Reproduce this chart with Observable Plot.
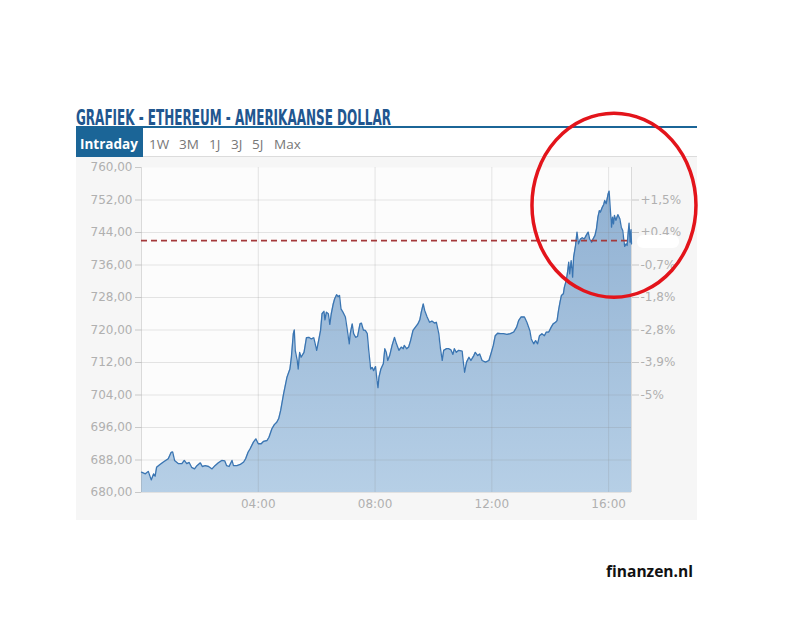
<!DOCTYPE html>
<html>
<head>
<meta charset="utf-8">
<script src="https://cdn.jsdelivr.net/npm/d3@7"></script>
<script src="https://cdn.jsdelivr.net/npm/@observablehq/plot@0.6"></script>
<style>
  html, body { margin: 0; padding: 0; background: #fff; }
  #page { position: relative; width: 800px; height: 628px; overflow: hidden; background: #fff; }
  #chart { position: absolute; left: 76px; top: 157px; }
  #overlay { position: absolute; left: 0; top: 0; pointer-events: none; }
</style>
</head>
<body>
<div id="page">
  <div id="chart"></div>
  <svg id="overlay" width="800" height="628"></svg>
</div>
<script>
// ---- data (minutes since 00:00, price in USD) ----
const times = [
  0, 8, 14, 20, 25, 28, 31, 38, 45, 55, 61, 64, 68, 76, 83, 88, 93, 98, 103, 109, 114, 121, 125, 131, 138, 145, 151, 158, 165, 171, 175, 180, 186, 189, 196, 203, 210, 214, 219, 223, 230, 235, 240, 246, 251, 258, 262, 268, 273, 278, 282,
  286, 292, 299, 305, 308, 312, 314, 316, 320, 322, 325, 328, 334, 339, 344, 349, 354, 357, 360, 364, 368, 371, 375, 377, 380, 384, 387, 390, 394, 397, 401, 404, 407, 410, 414, 419, 423, 427, 429, 433, 436, 440, 444, 449, 452, 456, 460, 464, 467, 471, 474, 477, 481, 484, 486, 488, 492, 497, 500, 503, 506, 510, 515, 520, 524, 529, 534, 538, 540, 545, 549, 553, 558, 563, 568, 572, 575, 579, 582, 587, 592, 597, 602, 606, 611, 614, 618, 621, 627, 631, 636, 640, 643, 647, 652, 659,
  661, 664, 668, 673, 677, 683, 686, 691, 695, 700, 707, 714, 719, 723, 727, 732, 738, 744, 751, 758, 765, 771, 775, 780, 787, 792, 798, 801, 806, 810, 814, 818, 823, 828, 832, 837, 842, 846, 851, 854, 857, 860, 863, 867, 869, 873, 876, 878, 880, 883, 886, 888, 892, 895, 898, 902, 906, 910, 914, 918, 921, 925, 928, 932, 935, 938, 941, 943, 947, 950, 952, 955, 959, 961, 963, 966, 968, 970, 972, 975, 979, 983, 986, 989, 991, 993, 996, 998, 1000, 1002, 1004, 1006, 1007
];
const prices = [
  685.0, 684.6, 685.2, 683.1, 684.6, 684.0, 686.2, 686.9, 687.5, 688.3, 689.9, 690.0, 687.9, 687.1, 687.1, 687.9, 687.1, 687.4, 686.2, 685.8, 686.6, 687.3, 686.4, 686.6, 686.4, 685.8, 686.6, 687.3, 687.9, 687.8, 686.6, 686.4, 687.9, 686.6, 686.6, 686.9, 687.5, 688.3, 689.9, 690.7, 692.4, 693.2, 692.0, 692.0, 692.6, 692.8, 693.6, 695.7, 696.7, 697.3, 698.2,
  700.2, 704.3, 708.4, 710.4, 713.3, 719.1, 720.0, 715.0, 712.5, 710.4, 714.5, 713.3, 714.5, 718.1, 718.2, 717.8, 718.1, 716.6, 715.0, 717.4, 719.9, 724.0, 724.6, 722.5, 724.4, 724.0, 721.4, 724.0, 726.4, 727.7, 728.7, 728.2, 728.5, 725.2, 724.4, 723.2, 720.0, 716.6, 719.1, 721.5, 719.1, 718.2, 718.4, 721.5, 721.7, 720.0, 719.9, 719.1, 715.0, 710.4, 710.8, 710.0, 711.0, 707.6, 705.8, 708.4, 710.4, 711.7, 715.4, 714.5, 712.5, 713.7, 716.2, 718.2, 716.6, 715.0, 715.8, 715.4, 716.2, 715.4, 715.8, 717.4, 719.9, 720.7, 721.5, 722.5, 724.4, 726.4, 724.8, 723.2, 721.9, 722.2, 721.7, 721.9, 719.1, 715.8, 712.5, 715.0, 715.4, 715.4, 715.1, 714.0, 715.4, 714.5, 715.0, 714.8,
  712.5, 709.6, 712.1, 713.3, 712.5, 713.7, 714.5, 713.7, 714.1, 712.5, 712.1, 712.5, 714.5, 716.2, 718.6, 719.2, 719.1, 719.1, 718.9, 719.1, 719.5, 720.7, 722.3, 723.2, 723.2, 721.9, 719.9, 717.8, 716.6, 717.4, 716.6, 718.6, 719.1, 718.6, 719.5, 719.5, 720.7, 721.5, 721.9, 722.3, 724.8, 726.8, 728.5, 728.9, 730.5, 732.2, 734.6, 736.7, 733.8, 737.1, 733.0, 737.9, 740.8, 744.1, 741.2, 742.4, 742.7, 742.4, 743.3, 744.1, 742.4, 741.6, 742.4, 743.3, 744.9, 747.8, 749.4, 749.0, 750.2, 750.9, 751.9, 751.1, 753.5, 754.2, 750.6, 745.3, 747.8, 746.1, 748.2, 747.0, 748.4, 747.4, 745.3, 744.5, 742.4, 740.6, 741.2, 740.8, 743.7, 746.3, 741.6, 744.7, 741.2
];
const refPrice = 742;                 // previous close (dashed line)
const xDomain = [0, 1007];            // 00:00 .. ~16:47
const yDomain = [680, 760];
const xTicks = [240, 480, 720, 960];
const xTickLabels = ["04:00", "08:00", "12:00", "16:00"];
const yTicks = [680, 688, 696, 704, 712, 720, 728, 736, 744, 752, 760];
const gridYTicks = [680, 688, 696, 704, 712, 720, 728, 736, 744, 752];
const pctTicks = [752, 744, 736, 728, 720, 712, 704];
const pctLabels = ["+1,5%", "+0,4%", "-0,7%", "-1,8%", "-2,8%", "-3,9%", "-5%"];
const titleText = "GRAFIEK - ETHEREUM - AMERIKAANSE DOLLAR";
const activeTab = "Intraday";
const tabs = ["1W", "3M", "1J", "3J", "5J", "Max"];
const brand = "finanzen.nl";
const highlightAt = { t: 972, price: 750.6 };

const data = times.map((t, i) => ({ t, price: prices[i] }));

const chart = Plot.plot({
  width: 621,
  height: 363,
  marginLeft: 65,
  marginRight: 66,
  marginTop: 10,
  marginBottom: 28,
  style: { fontFamily: "'DejaVu Sans', Verdana, sans-serif", fontSize: "12px", background: "#f6f6f6", color: "#b0b0b0" },
  x: { type: "linear", domain: xDomain, axis: null, label: null },
  y: { domain: yDomain, axis: null, label: null },
  marks: [
    Plot.frame({ fill: "#fcfcfc", stroke: "none" }),
    Plot.areaY(data, { x: "t", y1: yDomain[0], y2: "price", fill: "url(#ethGrad)", curve: "linear" }),
    Plot.gridY(gridYTicks, { stroke: "#808080", strokeOpacity: 0.2 }),
    Plot.gridX(xTicks, { stroke: "#808080", strokeOpacity: 0.2 }),
    Plot.ruleX(xDomain, { stroke: "#808080", strokeOpacity: 0.25 }),
    Plot.lineY(data, { x: "t", y: "price", stroke: "#3a75b2", strokeWidth: 1.3 }),
    Plot.ruleY([refPrice], { stroke: "#a4393b", strokeWidth: 1.6, strokeDasharray: "6,4" }),
    Plot.axisY(yTicks, { anchor: "left", label: null, tickSize: 6, tickPadding: 3, stroke: "#c8c8c8", fill: "#b0b0b0",
      tickFormat: d => d.toFixed(2).replace(".", ",") }),
    Plot.axisY(pctTicks, { anchor: "right", label: null, tickSize: 7, tickPadding: 2, stroke: "#c8c8c8", fill: "#b0b0b0",
      tickFormat: d => pctLabels[pctTicks.indexOf(d)] }),
    Plot.axisX(xTicks, { anchor: "bottom", label: null, tickSize: 0, tickPadding: 7, fill: "#b0b0b0",
      tickFormat: d => xTickLabels[xTicks.indexOf(d)] })
  ]
});

// gradient for the area fill
const svgNS = "http://www.w3.org/2000/svg";
const defs = document.createElementNS(svgNS, "defs");
defs.innerHTML = `<linearGradient id="ethGrad" gradientUnits="userSpaceOnUse" x1="0" y1="10" x2="0" y2="335">
  <stop offset="0" stop-color="#8eafd1"/><stop offset="1" stop-color="#b6cfe6"/></linearGradient>`;
chart.insertBefore(defs, chart.firstChild);
document.getElementById("chart").appendChild(chart);

// ---- overlay: header, tabs, annotation ----
const ov = d3.select("#overlay");
const chartLeft = 76, chartTop = 157;

// title
const title = ov.append("text")
  .attr("x", 76).attr("y", 125)
  .attr("font-family", "'Liberation Sans Narrow', 'DejaVu Sans Condensed', 'Roboto', sans-serif")
  .attr("font-stretch", "condensed")
  .attr("font-weight", "bold").attr("font-size", 22)
  .attr("fill", "#21568f").text(titleText);
title.attr("textLength", 315).attr("lengthAdjust", "spacingAndGlyphs");

// blue header line
ov.append("line").attr("x1", 76).attr("x2", 697).attr("y1", 127).attr("y2", 127)
  .attr("stroke", "#1b6597").attr("stroke-width", 2);
// gray line under tabs
ov.append("line").attr("x1", 76).attr("x2", 697).attr("y1", 156.5).attr("y2", 156.5)
  .attr("stroke", "#dcdcdc").attr("stroke-width", 1);
// active tab
ov.append("rect").attr("x", 76).attr("y", 128).attr("width", 67).attr("height", 29).attr("fill", "#1b6597");
ov.append("text").attr("x", 80).attr("y", 148.5)
  .attr("font-family", "'Open Sans', sans-serif").attr("font-weight", "bold").attr("font-size", 13.5)
  .attr("fill", "#fff").text(activeTab);
const tabX = [149, 179, 209, 231, 252, 274];
tabs.forEach((t, i) => {
  ov.append("text").attr("x", tabX[i]).attr("y", 148.5)
    .attr("font-family", "'Open Sans', sans-serif").attr("font-size", 13.5)
    .attr("fill", "#777").text(t);
});

// white label blob at right of the dashed line
ov.append("rect").attr("x", 637).attr("y", 235).attr("width", 42).attr("height", 13).attr("rx", 6)
  .attr("fill", "#fff");

// red highlight ellipse, centred on the peak area via the chart scales
const sx = chart.scale("x"), sy = chart.scale("y");
ov.append("ellipse")
  .attr("cx", chartLeft + sx.apply(highlightAt.t))
  .attr("cy", chartTop + sy.apply(highlightAt.price))
  .attr("rx", 82).attr("ry", 92)
  .attr("fill", "none").attr("stroke", "#e3141b").attr("stroke-width", 3.5);

// brand
const br = ov.append("text").attr("x", 606).attr("y", 577)
  .attr("font-family", "'Open Sans', sans-serif").attr("font-weight", "bold").attr("font-size", 16)
  .attr("fill", "#111").text(brand);
br.attr("textLength", 87).attr("lengthAdjust", "spacingAndGlyphs");
</script>
</body>
</html>
